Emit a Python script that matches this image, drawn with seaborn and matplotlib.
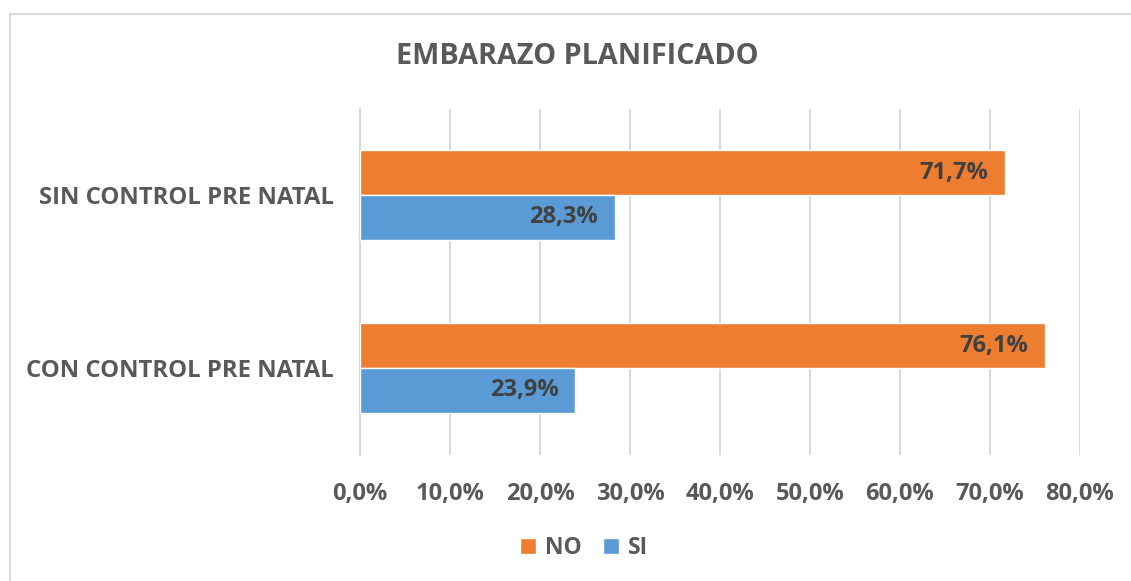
import pandas as pd
import seaborn as sns
import matplotlib.pyplot as plt
from matplotlib.patches import Patch, Rectangle

categorias = ['SIN CONTROL PRE NATAL', 'CON CONTROL PRE NATAL']
respuestas = ['NO', 'SI']
valores_no = [71.7, 76.1]
valores_si = [28.3, 23.9]
ticks_x = [0, 10, 20, 30, 40, 50, 60, 70, 80]

colores = {'NO': '#ED7D31', 'SI': '#5B9BD5'}
gris = '#595959'

df = pd.DataFrame({
    'Grupo': categorias * 2,
    'Respuesta': ['NO'] * 2 + ['SI'] * 2,
    'Valor': valores_no + valores_si,
})

sns.set_style('white')
plt.rcParams['font.family'] = ['Open Sans', 'DejaVu Sans']
plt.rcParams['font.weight'] = 'bold'

fig = plt.figure(figsize=(11.31, 5.81), dpi=100)
ax = fig.add_axes([360 / 1131, 1 - 454.5 / 581, 720 / 1131, 346 / 581])

# marco del grafico
fig.patches.append(Rectangle((9.5 / 1131, -0.1), 1.2, 1 - 13.5 / 581 + 0.1,
                             transform=fig.transFigure, fill=False,
                             edgecolor='#D9D9D9', linewidth=1.5, zorder=0))

g = sns.barplot(data=df, y='Grupo', x='Valor', hue='Respuesta', hue_order=respuestas,
                order=categorias, palette=colores, orient='h', width=0.52,
                ax=ax, legend=False, zorder=3, saturation=1)

# etiquetas dentro del extremo de cada barra
for cont in g.containers:
    for bar, v in zip(cont.patches, cont.datavalues):
        ax.annotate(f'{v:.1f}%'.replace('.', ','),
                    xy=(bar.get_width(), bar.get_y() + bar.get_height() / 2),
                    xytext=(-12, 0), textcoords='offset points', ha='right', va='center',
                    color='#404040', fontsize=17, fontweight='bold', zorder=4)

ax.set_xlim(0, 80)
ax.set_xticks(ticks_x)
ax.set_xticklabels([f'{t:.1f}%'.replace('.', ',') for t in ticks_x])
ax.grid(axis='x', color='#D9D9D9', linewidth=1.5, zorder=0)
ax.set_axisbelow(True)
for s in ['top', 'right', 'bottom']:
    ax.spines[s].set_visible(False)
ax.spines['left'].set_color('#D9D9D9')
ax.spines['left'].set_linewidth(1.5)
ax.tick_params(axis='x', length=0, pad=20, labelsize=17, labelcolor=gris)
ax.tick_params(axis='y', length=0, pad=19, labelsize=17.2, labelcolor=gris)
for lab in ax.get_xticklabels() + ax.get_yticklabels():
    lab.set_fontweight('bold')
ax.set_xlabel('')
ax.set_ylabel('')

fig.text(577 / 1131, 1 - 56 / 581, 'EMBARAZO PLANIFICADO', ha='center', va='center',
         fontsize=20.7, fontweight='bold', color=gris)

handles = [Patch(facecolor=colores[r], label=r) for r in respuestas]
fig.legend(handles=handles, loc='center', bbox_to_anchor=(584 / 1131, 1 - 548 / 581),
           ncol=2, frameon=False, handlelength=0.7, handleheight=0.7,
           handletextpad=0.4, columnspacing=0.9,
           prop={'size': 16.5, 'weight': 'bold'}, labelcolor=gris)

fig.savefig('out.png', dpi=100)
